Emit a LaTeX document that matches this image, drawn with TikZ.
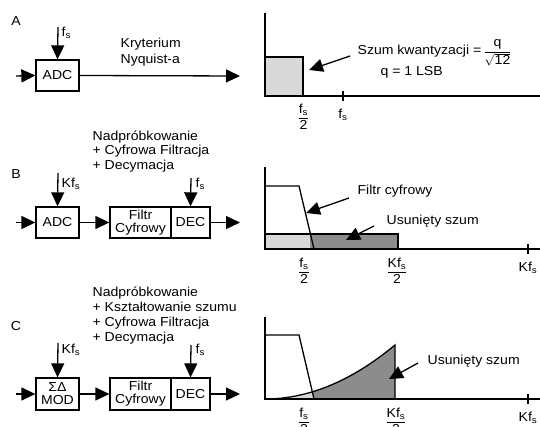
\documentclass[tikz,border=0pt]{standalone}
\usepackage{fontspec}
\setmainfont[FakeStretch=1.08]{Liberation Sans}
\usetikzlibrary{arrows.meta}
\definecolor{lg}{RGB}{216,216,216}
\definecolor{dg}{RGB}{140,140,140}
\newcommand{\fsub}{f\textsubscript{s}}
\newcommand{\Kfsub}{Kf\textsubscript{s}}
\newcommand{\halff}[1]{$\displaystyle\frac{\mbox{#1}}{\mbox{2}}$}
\begin{document}
\begin{tikzpicture}[x=1pt,y=-1pt,line width=1.3pt,
  font=\fontsize{13}{15}\selectfont,
  arr/.style={-{Triangle[length=14pt,width=13pt]}},
  blk/.style={draw,minimum height=31pt,inner sep=0pt,align=center},
  txt/.style={inner sep=0pt,anchor=base west},
  blocktxt/.style={inner sep=0pt,anchor=west,align=left,font=\fontsize{13}{14.8}\selectfont},
  lbl/.style={inner sep=0pt}]
\useasboundingbox (0,0) rectangle (540,427);

% ---------------- Panel A ----------------
\node[lbl] (lA) at (16,21) {A};
\node[blk,minimum width=43pt] (adcA) at (57.5,75.5) {ADC};
\coordinate (inA) at (16,76);
\coordinate (clkA) at (58,27);
\coordinate (outA) at (240,76);
\draw[arr] (inA) -- (adcA.west);
\draw[arr] (clkA) -- (adcA.north);
\node[lbl,anchor=west] (fsA) at (61,33) {\fsub};
\draw[arr] (adcA.east) -- (outA);
\node[blocktxt,font=\fontsize{13}{16}\selectfont] (nyq) at (120,52) {Kryterium\\Nyquist-a};

% graph A
\fill[lg] (265,57) rectangle (303,96);
\draw (265,96) -- (265,57) -- (303,57) -- (303,96);
\draw (265,13) -- (265,96) -- (540,96);
\draw (343,91) -- (343,101);
\node[lbl] (hA) at (303.5,117) {\halff{\fsub}};
\node[lbl] (fA) at (343,115) {\fsub};
\node[txt] (szum) at (357,55) {Szum kwantyzacji =\,$\displaystyle\frac{\mbox{q}}{\sqrt{\mbox{12}}}$};
\node[txt] (lsb) at (380,76) {q = 1 LSB};
\coordinate (tA) at (350,56);
\coordinate (pA) at (309,70);
\draw[arr] (tA) -- (pA);

% ---------------- Panel B ----------------
\node[lbl] (lB) at (16,174) {B};
\node[blocktxt] (txtB) at (92,151.5) {Nadpróbkowanie\\+ Cyfrowa Filtracja\\+ Decymacja};
\node[blk,minimum width=43pt] (adcB) at (57.5,222.5) {ADC};
\node[blk,minimum width=61pt,font=\fontsize{13}{13}\selectfont] (filB) at (140.5,222.5) {Filtr\\Cyfrowy};
\node[blk,minimum width=39pt] (decB) at (190.5,222.5) {DEC};
\coordinate (inB) at (16,222.5);
\coordinate (clkB) at (58,173);
\coordinate (clkB2) at (191,178);
\coordinate (outB) at (240,222.5);
\draw[arr] (inB) -- (adcB.west);
\draw[arr] (clkB) -- (adcB.north);
\node[lbl,anchor=west] (kfB) at (61,184) {\Kfsub};
\draw[arr] (adcB.east) -- (filB.west);
\draw[arr] (clkB2) -- (decB.north);
\node[lbl,anchor=west] (fsB) at (195,184) {\fsub};
\draw[arr] (decB.east) -- (outB);

% graph B
\fill[lg] (265,234) rectangle (310.4,249);
\fill[dg] (310.4,234) rectangle (398,249);
\draw (265,234) -- (398,234) -- (398,249);
\draw (265,186) -- (299,186) -- (314,249);
\draw (265,167) -- (265,249) -- (540,249);
\draw (528,244) -- (528,254);
\node[lbl] (hB) at (304,271) {\halff{\fsub}};
\node[lbl] (kB) at (397,271) {\halff{\Kfsub}};
\node[lbl] (kfsB) at (528,268) {\Kfsub};
\node[txt] (filtxt) at (357,195) {Filtr cyfrowy};
\node[txt] (usB) at (386,225) {Usunięty szum};
\coordinate (tB1) at (349,198);
\coordinate (pB1) at (306,213);
\coordinate (tB2) at (374,226);
\coordinate (pB2) at (346,240);
\draw[arr] (tB1) -- (pB1);
\draw[arr] (tB2) -- (pB2);

% ---------------- Panel C ----------------
\node[lbl] (lC) at (16,326) {C};
\node[blocktxt] (txtC) at (92,315.5) {Nadpróbkowanie\\+ Kształtowanie szumu\\+ Cyfrowa Filtracja\\+ Decymacja};
\node[blk,minimum width=43pt,minimum height=32pt,font=\fontsize{13}{13}\selectfont] (modC) at (57.5,394) {ΣΔ\\MOD};
\node[blk,minimum width=61pt,minimum height=32pt,font=\fontsize{13}{13}\selectfont] (filC) at (140.5,394) {Filtr\\Cyfrowy};
\node[blk,minimum width=39pt,minimum height=32pt] (decC) at (190.5,394) {DEC};
\coordinate (inC) at (16,394);
\coordinate (clkC) at (58,343);
\coordinate (clkC2) at (191,345);
\coordinate (outC) at (240,394);
\draw[arr] (inC) -- (modC.west);
\draw[arr] (clkC) -- (modC.north);
\node[lbl,anchor=west] (kfC) at (61,350) {\Kfsub};
\draw[arr] (modC.east) -- (filC.west);
\draw[arr] (clkC2) -- (decC.north);
\node[lbl,anchor=west] (fsC) at (195,350) {\fsub};
\draw[arr] (decC.east) -- (outC);

% graph C
\fill[dg] (265,399) .. controls (308.3,399) and (351.7,381) .. (395,345) -- (395,399) -- cycle;
\begin{scope}
  \clip (250,330) -- (299,335) -- (314,399) -- (314,405) -- (250,405) -- cycle;
  \fill[lg] (265,399) .. controls (308.3,399) and (351.7,381) .. (395,345) -- (395,399) -- cycle;
\end{scope}
\draw (265,399) .. controls (308.3,399) and (351.7,381) .. (395,345) -- (395,399);
\draw (265,335) -- (299,335) -- (314,399);
\draw (265,317) -- (265,399) -- (540,399);
\draw (528,394) -- (528,404);
\node[lbl] (hC) at (304,421) {\halff{\fsub}};
\node[lbl] (kC) at (396,421) {\halff{\Kfsub}};
\node[lbl] (kfsC) at (528,418) {\Kfsub};
\node[txt] (usC) at (427,364) {Usunięty szum};
\coordinate (tC) at (418,363);
\coordinate (pC) at (389,379);
\draw[arr] (tC) -- (pC);
\end{tikzpicture}
\end{document}
